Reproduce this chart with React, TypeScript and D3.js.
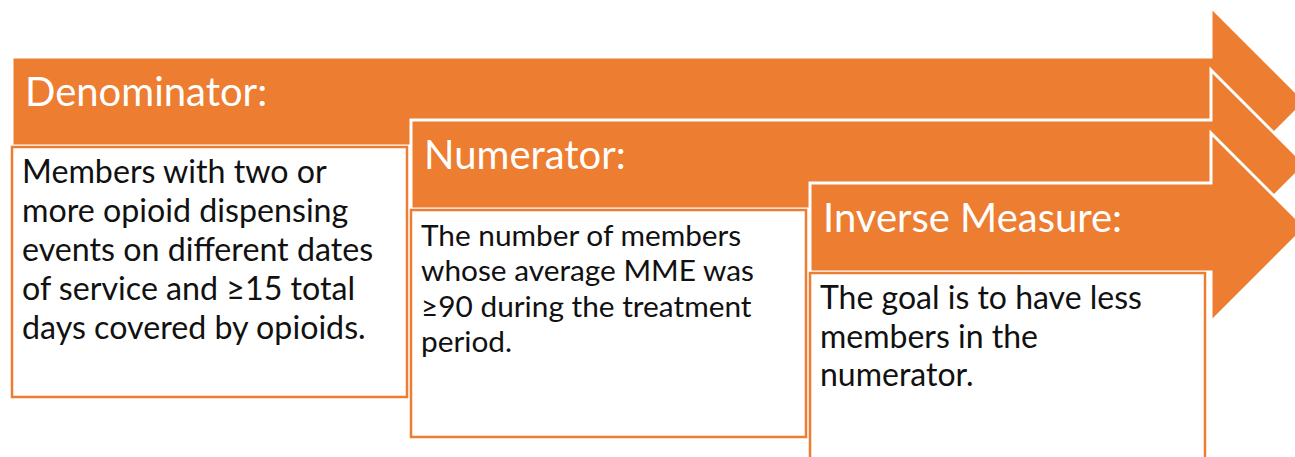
import React from 'react'
import * as d3 from 'd3'

// step titles and the text lines in each white box
const titles = ['Denominator:', 'Numerator:', 'Inverse Measure:']
const descriptions = [
  ['Members with two or', 'more opioid dispensing', 'events on different dates', 'of service and \u226515 total', 'days covered by opioids.'],
  ['The number of members', 'whose average MME was', '\u226590 during the treatment', 'period.'],
  ['The goal is to have less', 'members in the', 'numerator.'],
]

const W = 1295
const H = 457
const ORANGE = '#ED7D31'
const FONT = 'Lato, "Open Sans", sans-serif'

const shaftH = 89
const overhang = 50
const headX = 1211
const boxW = 397
const boxH = [250, 227, 210]
const bodySize = [32.2, 29.8, 32]
const lineGap = [39, 35.3, 38.5]

export default function App() {
  const steps = d3.range(titles.length)
  const x = d3.scaleLinear().domain([0, 1]).range([12, 411])
  const y = d3.scaleLinear().domain([0, 1]).range([57, 120])

  const arrowPath = (i: number) => {
    const top = y(i)
    const mid = top + shaftH / 2
    const p = d3.path()
    p.moveTo(x(i), top)
    p.lineTo(headX, top)
    p.lineTo(headX, top - overhang)
    p.lineTo(headX + shaftH / 2 + overhang, mid)
    p.lineTo(headX, top + shaftH + overhang)
    p.lineTo(headX, top + shaftH)
    p.lineTo(x(i), top + shaftH)
    p.closePath()
    return p.toString()
  }

  return (
    <svg width={W} height={H} style={{ position: 'absolute', left: 0, top: 0, background: '#fff' }}>
      {steps.map(i => (
        <g key={i}>
          <path d={arrowPath(i)} fill={ORANGE} stroke="#fff" strokeWidth={3} strokeLinejoin="miter" />
          <text
            x={x(i) + 13}
            y={y(i) + 49}
            fill="#fff"
            fontFamily={FONT}
            fontSize={40}
          >
            {titles[i]}
          </text>
          <rect
            x={x(i)}
            y={y(i) + shaftH + 1}
            width={boxW - 2}
            height={boxH[i]}
            fill="#fff"
            stroke={ORANGE}
            strokeWidth={2.5}
          />
          {descriptions[i].map((line, j) => (
            <text
              key={j}
              x={x(i) + 10}
              y={y(i) + shaftH + 37 + j * lineGap[i]}
              fill="#111"
              fontFamily={FONT}
              fontSize={bodySize[i]}
            >
              {line}
            </text>
          ))}
        </g>
      ))}
    </svg>
  )
}
